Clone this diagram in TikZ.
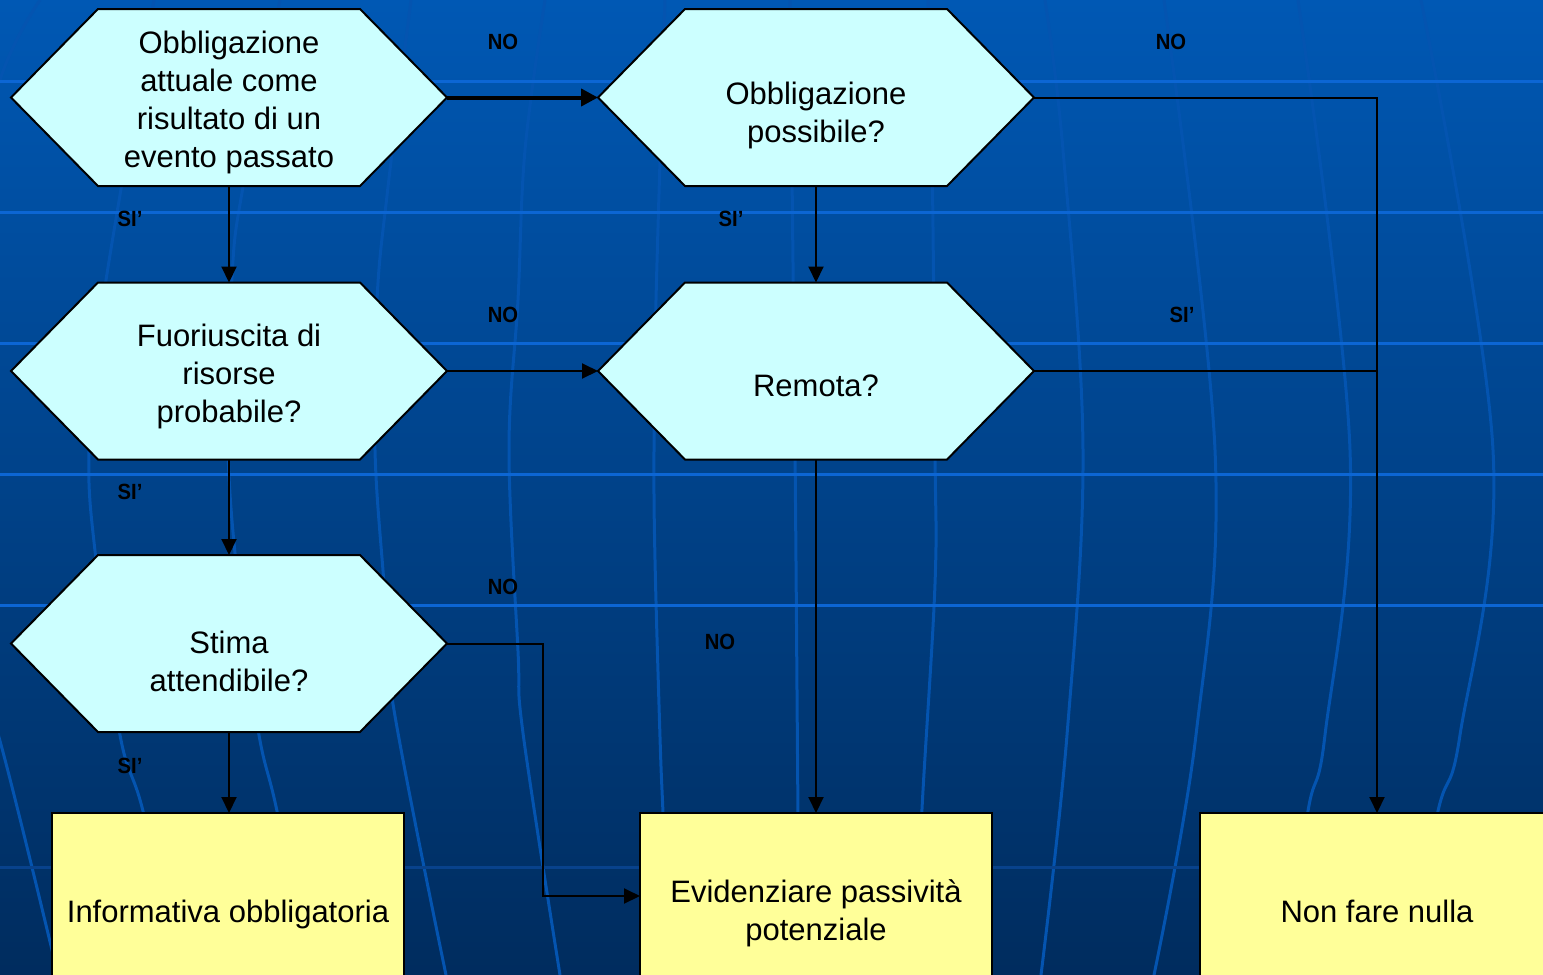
\documentclass[tikz,border=0pt]{standalone}
\usepackage{fontspec}
\setmainfont{Liberation Sans}
\newfontfamily\lblfont[FakeStretch=0.92]{Liberation Sans Bold}
\usetikzlibrary{arrows.meta,calc}
\definecolor{bgtop}{RGB}{0,88,180}
\definecolor{bgbot}{RGB}{0,44,94}
\definecolor{gridline}{RGB}{12,102,212}
\definecolor{gridmer}{RGB}{4,84,176}
\definecolor{griddim}{RGB}{8,66,140}
\definecolor{hexfill}{RGB}{204,255,255}
\definecolor{boxfill}{RGB}{255,255,153}
\tikzset{
  hexbox/.style={rectangle, draw=none, inner sep=0pt, outer sep=0pt, minimum width=436pt, minimum height=177pt},
  hexshape/.style={fill=hexfill, draw=black, line width=2pt, line join=miter},
  qtext/.style={align=center, font=\fontsize{31}{38}\selectfont, inner sep=0pt},
  ybox/.style={rectangle, fill=boxfill, draw=black, line width=2pt, minimum width=352pt, minimum height=196pt, inner sep=0pt, outer sep=0pt},
  lbl/.style={font=\lblfont\fontsize{22}{24}\selectfont, inner sep=0pt},
  conn/.style={line width=2pt, -{Triangle[length=16pt,width=15pt]}},
  connthick/.style={line width=4pt, -{Triangle[length=17pt,width=17pt]}},
  connplain/.style={line width=2pt},
  hline/.style={draw=gridline, line width=3pt},
  meridian/.style={draw=gridmer, line width=3pt},
}
\newcommand\hexdraw[1]{\filldraw[hexshape] (#1.west) -- ([xshift=87pt]#1.north west) -- ([xshift=-87pt]#1.north east) -- (#1.east) -- ([xshift=-87pt]#1.south east) -- ([xshift=87pt]#1.south west) -- cycle;}
\begin{document}
\begin{tikzpicture}[x=1pt,y=-1pt]
\useasboundingbox (0,0) rectangle (1543,975);
\clip (0,0) rectangle (1543,975);
% background
\shade[top color=bgtop, bottom color=bgbot] (0,0) rectangle (1543,975);
\draw[meridian] plot[smooth, tension=0.6] coordinates {(40,0) (0,80) (-40,250) (-60,450) (-40,620) (0,741) (58,975)};
\draw[meridian] plot[smooth, tension=0.6] coordinates {(154,0) (103,300) (89,450) (96,560) (120,735) (143,811) (180,975)};
\draw[meridian] plot[smooth, tension=0.6] coordinates {(280,0) (243,187) (232,277) (228,450) (240,600) (259,735) (277,811) (310,975)};
\draw[meridian] plot[smooth, tension=0.6] coordinates {(411,0) (388,187) (377,300) (375,450) (384,584) (393,704) (446,975)};
\draw[meridian] plot[smooth, tension=0.6] coordinates {(545,0) (525,150) (518,300) (509,450) (518,651) (523,733) (560,975)};
\draw[meridian] plot[smooth, tension=0.6] coordinates {(665,0) (656,300) (654,450) (655,560) (660,737) (663,813) (670,975)};
\draw[meridian] plot[smooth, tension=0.6] coordinates {(790,0) (795,450) (798,813) (800,975)};
\draw[meridian] plot[smooth, tension=0.6] coordinates {(928,0) (932,150) (935,450) (935,584) (922,809) (915,975)};
\draw[meridian] plot[smooth, tension=0.6] coordinates {(1045,0) (1063,150) (1083,450) (1067,735) (1041,975)};
\draw[meridian] plot[smooth, tension=0.6] coordinates {(1164,0) (1215,450) (1196,735) (1154,975)};
\draw[meridian] plot[smooth, tension=0.6] coordinates {(1298,0) (1350,450) (1325,735) (1308,811) (1285,975)};
\draw[meridian] plot[smooth, tension=0.6] coordinates {(1421,0) (1493,450) (1460,735) (1438,811) (1405,975)};
\foreach \yy in {81,212,343,474,605} {\draw[hline] (0,\yy) -- (1543,\yy);}
\draw[draw=griddim, line width=3pt] (0,867) -- (1543,867);
% hexagon frames
\node[hexbox] (h1) at (229,97.5) {};
\node[hexbox] (h2) at (816,97.5) {};
\node[hexbox] (h3) at (229,371) {};
\node[hexbox] (h4) at (816,371) {};
\node[hexbox] (h5) at (229,643.5) {};
\hexdraw{h1}
\hexdraw{h2}
\hexdraw{h3}
\hexdraw{h4}
\hexdraw{h5}
% hexagon texts
\node[qtext] (h1t) at (229,102.5) {Obbligazione\\attuale come\\risultato di un\\evento passato};
\node[qtext] (h2t) at (816,115) {Obbligazione\\possibile?};
\node[qtext] (h3t) at (229,376) {Fuoriuscita di\\risorse\\probabile?};
\node[qtext] (h4t) at (816,386) {Remota?};
\node[qtext] (h5t) at (229,661) {Stima\\attendibile?};
% result boxes
\node[ybox] (b1) at (228,911) {};
\node[ybox] (b2) at (816,911) {};
\node[ybox, minimum width=354pt] (b3) at (1377,911) {};
\node[qtext] (b1t) at (228,914) {Informativa obbligatoria};
\node[qtext] (b2t) at (816,913.5) {Evidenziare passività\\potenziale};
\node[qtext] (b3t) at (1377,911) {Non fare nulla};
% connectors
\draw[connthick] (h1.east) -- (h2.west);
\draw[conn] (h1.south) -- (h3.north);
\draw[conn] (h2.south) -- (h4.north);
\draw[conn] (h3.east) -- (h4.west);
\draw[conn] (h3.south) -- (h5.north);
\draw[conn] (h4.south) -- (b2.north);
\draw[conn] (h5.south) -- (h5.south |- b1.north);
\draw[conn] (h5.east) -- ++(96,0) |- ([yshift=15pt]b2.west);
\draw[conn] (h2.east) -| (b3.north);
\draw[connplain] (h4.east) -- (h4.east -| b3.north);
% labels
\node[lbl] (n1) at (503,42) {NO};
\node[lbl] (n2) at (1171,42) {NO};
\node[lbl] (n3) at (503,315) {NO};
\node[lbl] (n4) at (503,587) {NO};
\node[lbl] (n5) at (720,642) {NO};
\node[lbl] (s1) at (130,219) {SI’};
\node[lbl] (s2) at (731,219) {SI’};
\node[lbl] (s3) at (1182,315) {SI’};
\node[lbl] (s4) at (130,492) {SI’};
\node[lbl] (s5) at (130,766) {SI’};
\end{tikzpicture}
\end{document}
